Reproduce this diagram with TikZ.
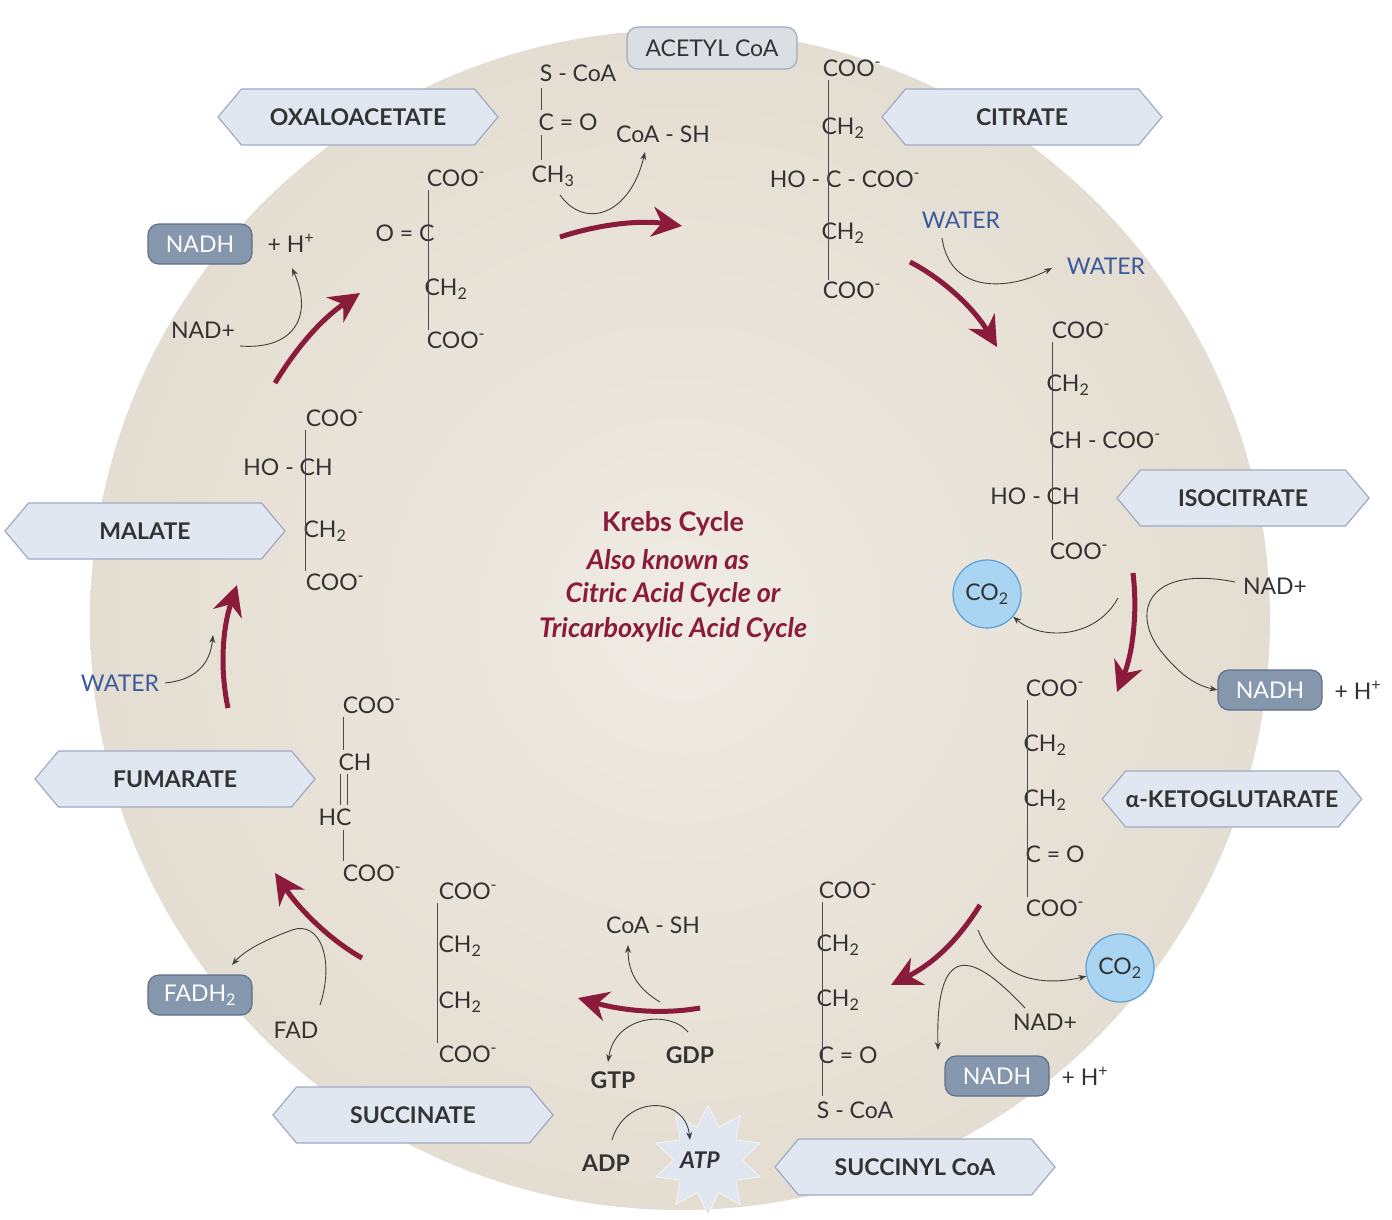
\documentclass[tikz,border=0pt]{standalone}
\usepackage{fontspec}
\setmainfont{Lato}
\usetikzlibrary{shapes.symbols,shapes.geometric,arrows.meta}
\definecolor{beige}{HTML}{E4DDD1}
\definecolor{beigein}{HTML}{EFEBE4}
\definecolor{hexf}{HTML}{E1E7F0}
\definecolor{hexd}{HTML}{9EABC4}
\definecolor{nadf}{HTML}{8597AD}
\definecolor{nadd}{HTML}{5F7088}
\definecolor{crim}{HTML}{8A1B3B}
\definecolor{wblue}{HTML}{3A5A9C}
\definecolor{cof}{HTML}{A9D5F2}
\definecolor{cod}{HTML}{5B9FD6}
\definecolor{txt}{HTML}{333333}
\begin{document}
\begin{tikzpicture}[x=1pt,y=-1pt,
  every node/.style={text=txt,font=\fontsize{23}{26}\selectfont},
  hex/.style={signal,signal to=west and east,signal pointer angle=100,draw=hexd,fill=hexf,line width=1.2pt,minimum height=56pt,inner sep=0pt,font=\fontsize{23}{26}\selectfont\bfseries},
  nad/.style={rounded corners=11pt,draw=nadd,fill=nadf,line width=1.2pt,minimum width=104pt,minimum height=40pt,text=white,inner sep=0pt},
  co/.style={circle,draw=cod,fill=cof,line width=1.2pt,minimum size=68pt,inner sep=0pt},
  big/.style={crim,line width=5pt,-{Stealth[length=30pt,width=30pt]}},
  thin/.style={black!75,line width=0.9pt,-{Stealth[length=8pt,width=6pt]}},
  bond/.style={black!70,line width=0.9pt},
  wat/.style={text=wblue},
  bd/.style={font=\fontsize{23}{26}\selectfont\bfseries}]
\useasboundingbox (0,0) rectangle (1392,1220);
\shade[inner color=beigein,outer color=beige] (680,620) circle (590);
% center text
\node[text=crim,font=\fontsize{27}{30}\selectfont\bfseries] (t1) at (673,524) {Krebs Cycle};
\node[text=crim,font=\fontsize{27}{30}\selectfont\bfseries\itshape] (t2) at (668,560) {Also known as};
\node[text=crim,font=\fontsize{27}{30}\selectfont\bfseries\itshape] (t3) at (673,595) {Citric Acid Cycle or};
\node[text=crim,font=\fontsize{27}{30}\selectfont\bfseries\itshape] (t4) at (673,630) {Tricarboxylic Acid Cycle};
% hex labels
\node[hex,minimum width=280pt] (oxa) at (358,117) {OXALOACETATE};
\node[hex,minimum width=280pt] (cit) at (1022,117) {CITRATE};
\node[hex,minimum width=252pt] (iso) at (1243,498) {ISOCITRATE};
\node[hex,minimum width=255pt] (akg) at (1232,799) {α-KETOGLUTARATE};
\node[hex,minimum width=280pt] (scoa) at (915,1167) {SUCCINYL CoA};
\node[hex,minimum width=280pt] (succ) at (413,1115) {SUCCINATE};
\node[hex,minimum width=280pt] (fum) at (175,779) {FUMARATE};
\node[hex,minimum width=280pt] (mal) at (145,531) {MALATE};
% acetyl CoA
\node[rounded corners=11pt,draw=hexd,fill=hexf!70!gray!60,line width=1.2pt,minimum width=170pt,minimum height=42pt] (acoa) at (712,48) {ACETYL CoA};
\node (a1) at (578,73) {S - CoA};
\node (a2) at (568,122) {C = O};
\node (a3) at (553,176) {CH\textsubscript{3}};
\draw[bond] (541,88) -- (541,110) (541,135) -- (541,160);
\node (coash1) at (663,134) {CoA - SH};
\draw[thin] (560,195) .. controls (585,230) and (630,215) .. (645,152);
\draw[big] (560,237) .. controls (600,224) and (640,220) .. (682,226);
% citrate
\node (c1) at (852,68) {COO\textsuperscript{-}};
\node (c2) at (843,128) {CH\textsubscript{2}};
\node (c3) at (845,179) {HO - C - COO\textsuperscript{-}};
\node (c4) at (843,233) {CH\textsubscript{2}};
\node (c5) at (852,290) {COO\textsuperscript{-}};
\draw[bond] (828,80) -- (828,280);
\node[wat] (w1) at (961,220) {WATER};
\node[wat] (w2) at (1106,266) {WATER};
\draw[thin] (942,238) .. controls (950,295) and (1010,290) .. (1052,268);
\draw[big] (910,262) .. controls (945,280) and (975,310) .. (997,347);
% isocitrate
\node (i1) at (1081,330) {COO\textsuperscript{-}};
\node (i2) at (1068,385) {CH\textsubscript{2}};
\node (i3) at (1105,440) {CH - COO\textsuperscript{-}};
\node (i4) at (1035,496) {HO - CH};
\node (i5) at (1079,551) {COO\textsuperscript{-}};
\draw[bond] (1052,342) -- (1052,540);
\node[co] (co1) at (987,594) {CO\textsubscript{2}};
\node (nad1) at (1275,586) {NAD+};
\node[nad] (nadh1) at (1270,690) {NADH};
\node (h1) at (1358,690) {+ H\textsuperscript{+}};
\draw[big] (1133,573) .. controls (1138,615) and (1132,655) .. (1117,692);
\draw[thin] (1118,598) .. controls (1095,640) and (1040,640) .. (co1);
\draw[thin] (1235,582) .. controls (1150,565) and (1130,610) .. (1160,650) .. controls (1180,675) and (1195,685) .. (nadh1.west);
% a-ketoglutarate
\node (k1) at (1055,688) {COO\textsuperscript{-}};
\node (k2) at (1045,745) {CH\textsubscript{2}};
\node (k3) at (1045,800) {CH\textsubscript{2}};
\node (k4) at (1055,854) {C = O};
\node (k5) at (1055,908) {COO\textsuperscript{-}};
\draw[bond] (1027,700) -- (1027,897);
\node[co] (co2) at (1120,968) {CO\textsubscript{2}};
\node (nad2) at (1045,1022) {NAD+};
\node[nad] (nadh2) at (997,1076) {NADH};
\node (h2) at (1085,1076) {+ H\textsuperscript{+}};
\draw[big] (980,905) .. controls (955,945) and (930,965) .. (891,985);
\draw[thin] (978,930) .. controls (1000,985) and (1050,985) .. (co2);
\draw[thin] (1025,1008) .. controls (980,960) and (935,930) .. (938,1050);
% succinyl CoA
\node (s1) at (848,890) {COO\textsuperscript{-}};
\node (s2) at (838,945) {CH\textsubscript{2}};
\node (s3) at (838,1000) {CH\textsubscript{2}};
\node (s4) at (848,1055) {C = O};
\node (s5) at (855,1110) {S - CoA};
\draw[bond] (822,902) -- (822,1096);
\node (coash2) at (653,925) {CoA - SH};
\draw[big] (700,1008) .. controls (660,1015) and (620,1010) .. (578,998);
\draw[thin] (660,1002) .. controls (640,990) and (628,975) .. (628,945);
\node[bd] (gtp) at (613,1080) {GTP};
\node[bd] (gdp) at (690,1055) {GDP};
\node[star,star points=10,star point ratio=1.6,fill=hexf,draw=white,minimum size=110pt,inner sep=0pt] (atps) at (708,1160) {};
\node[bd,font=\fontsize{23}{26}\selectfont\bfseries\itshape] (atp) at (700,1160) {ATP};
\node[bd] (adp) at (606,1163) {ADP};
\draw[thin] (688,1032) .. controls (670,1010) and (615,1015) .. (608,1062);
\draw[thin] (612,1140) .. controls (625,1095) and (685,1095) .. (690,1140);
% succinate
\node (u1) at (468,891) {COO\textsuperscript{-}};
\node (u2) at (460,946) {CH\textsubscript{2}};
\node (u3) at (460,1002) {CH\textsubscript{2}};
\node (u4) at (468,1054) {COO\textsuperscript{-}};
\draw[bond] (437,903) -- (437,1043);
\node[nad] (fadh) at (200,995) {FADH\textsubscript{2}};
\node (fad) at (296,1030) {FAD};
\draw[big] (362,958) .. controls (330,940) and (300,910) .. (275,873);
\draw[thin] (320,1005) .. controls (335,960) and (320,920) .. (292,930) .. controls (265,940) and (245,950) .. (232,965);
% fumarate
\node (f1) at (372,705) {COO\textsuperscript{-}};
\node (f2) at (355,762) {CH};
\node (f3) at (335,817) {HC};
\node (f4) at (372,873) {COO\textsuperscript{-}};
\draw[bond] (343,717) -- (343,750) (343,830) -- (343,861);
\draw[bond] (340,774) -- (340,805) (347,774) -- (347,805);
\node[wat] (w3) at (120,683) {WATER};
\draw[big] (228,708) .. controls (220,670) and (222,630) .. (237,585);
\draw[thin] (165,683) .. controls (195,680) and (210,665) .. (213,635);
% malate
\node (m1) at (335,418) {COO\textsuperscript{-}};
\node (m2) at (288,467) {HO - CH};
\node (m3) at (325,531) {CH\textsubscript{2}};
\node (m4) at (335,582) {COO\textsuperscript{-}};
\draw[bond] (305,430) -- (305,571);
\draw[big] (275,383) .. controls (295,350) and (320,320) .. (360,293);
\node[nad] (nadh3) at (200,244) {NADH};
\node (h3) at (291,243) {+ H\textsuperscript{+}};
\node (nad3) at (203,330) {NAD+};
\draw[thin] (240,346) .. controls (290,350) and (315,320) .. (292,268);
% oxaloacetate
\node (o1) at (456,178) {COO\textsuperscript{-}};
\node (o2) at (405,233) {O = C};
\node (o3) at (446,289) {CH\textsubscript{2}};
\node (o4) at (456,340) {COO\textsuperscript{-}};
\draw[bond] (428,190) -- (428,330);
\end{tikzpicture}
\end{document}
